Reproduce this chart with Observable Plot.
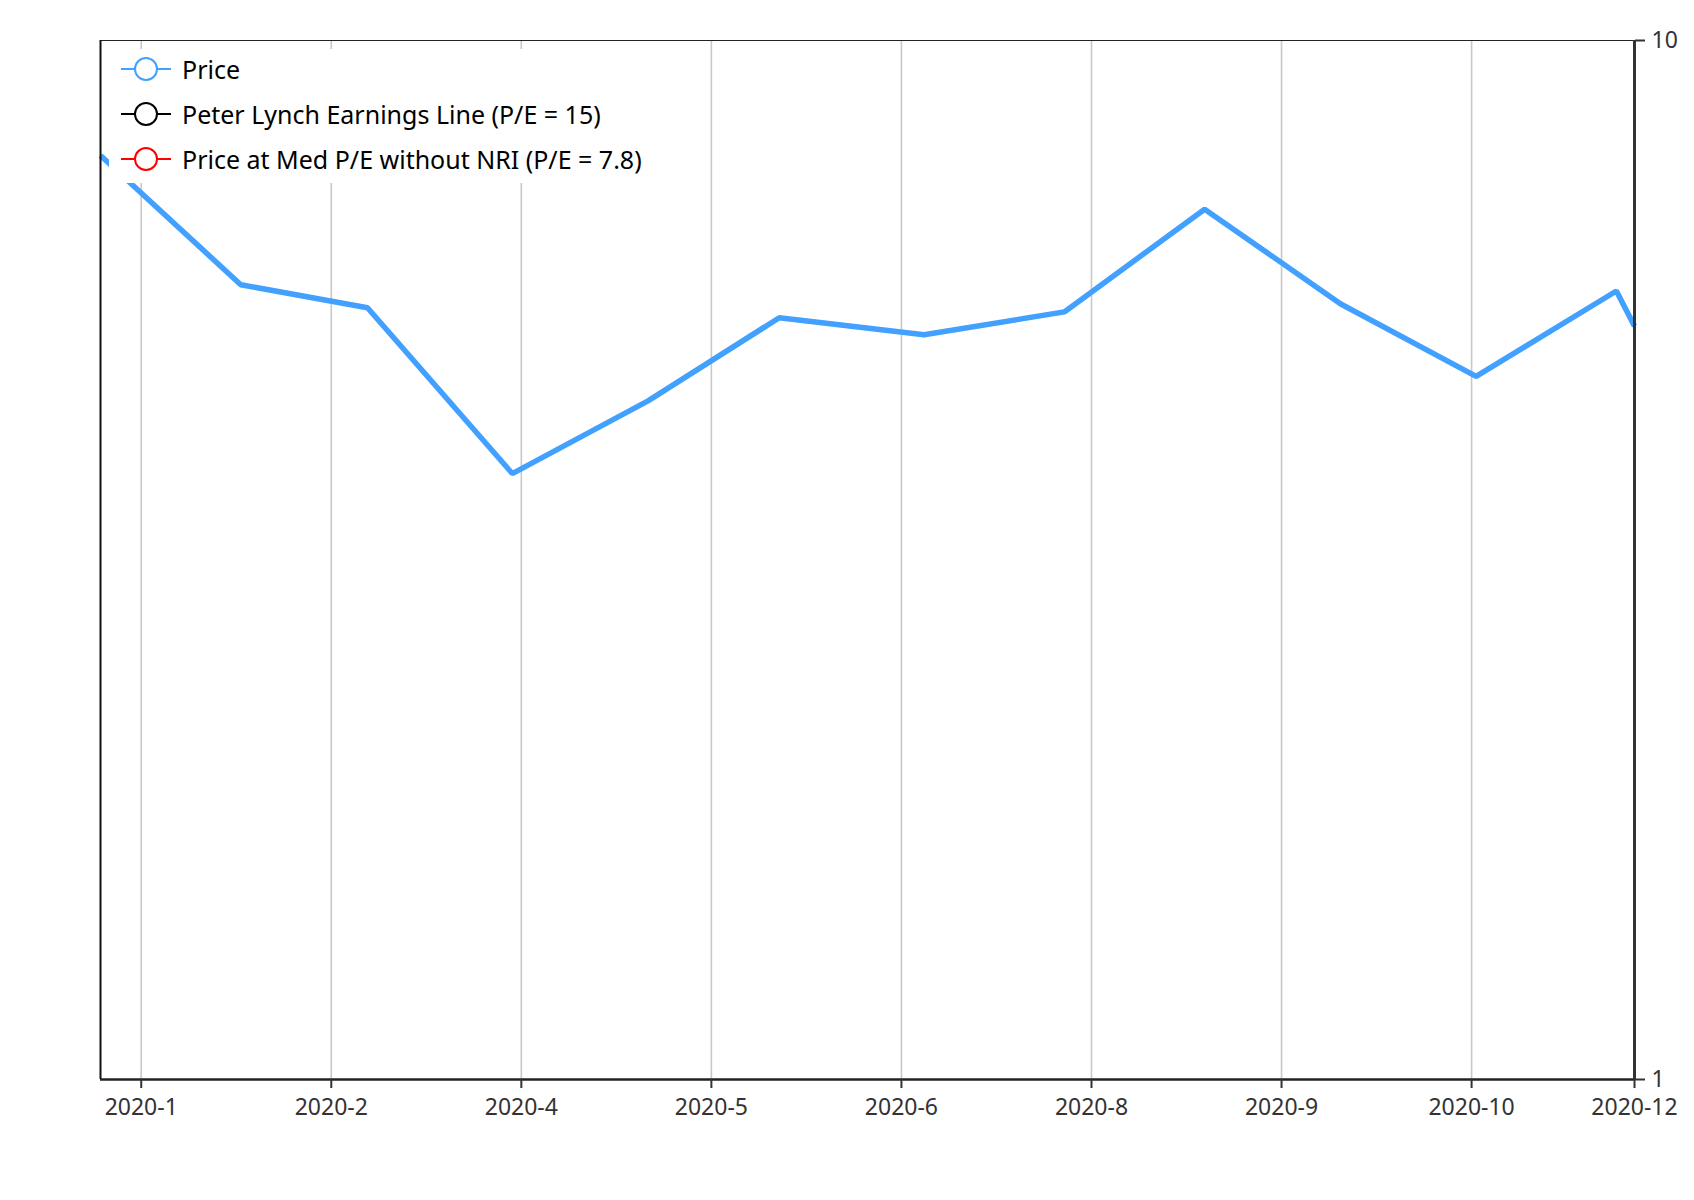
<!DOCTYPE html>
<html>
<head>
<meta charset="utf-8">
<script src="https://cdn.jsdelivr.net/npm/d3@7"></script>
<script src="https://cdn.jsdelivr.net/npm/@observablehq/plot@0.6"></script>
<style>
  html, body { margin: 0; padding: 0; background: #fff; }
  #wrap { position: relative; width: 1694px; height: 1200px; font-family: "Noto Sans", sans-serif; }
  #legend { position: absolute; left: 109px; top: 49px; width: 545px; height: 134px; background: #fff; }
  .item { position: absolute; left: 0; height: 45px; display: flex; align-items: center; font-size: 25px; color: #000; white-space: nowrap; }
  .item svg { margin-right: 10px; }
</style>
</head>
<body>
<div id="wrap"><div id="legend"></div></div>
<script>
// ---- data ----
const dates = ["2019-12-31","2020-01-31","2020-02-28","2020-03-31","2020-04-30","2020-05-29","2020-06-30","2020-07-31","2020-08-31","2020-09-30","2020-10-30","2020-11-30","2020-12-04"];
const prices = [7.75, 5.82, 5.53, 3.83, 4.50, 5.41, 5.21, 5.48, 6.88, 5.58, 4.75, 5.74, 5.31];
const xTickDates = ["2020-01-09","2020-02-20","2020-04-02","2020-05-14","2020-06-25","2020-08-06","2020-09-17","2020-10-29","2020-12-04"];
const yTicks = [1, 10];
const legendLabels = ["Price", "Peter Lynch Earnings Line (P/E = 15)", "Price at Med P/E without NRI (P/E = 7.8)"];
const legendColors = ["#42a0ff", "#000000", "#ff0000"];

const parse = d3.utcParse("%Y-%m-%d");
const data = dates.map((d, i) => ({date: parse(d), price: prices[i]}));
const ticks = xTickDates.map(parse);
const domainX = [parse(dates[0]), parse(dates[dates.length - 1])];

const chart = Plot.plot({
  width: 1694,
  height: 1200,
  marginLeft: 100,
  marginRight: 60,
  marginTop: 40,
  marginBottom: 121,
  style: {fontFamily: "Noto Sans, sans-serif", fontSize: "23px", color: "#333", background: "#fff", overflow: "visible"},
  x: {type: "utc", domain: domainX},
  y: {type: "log", domain: [1, 10]},
  marks: [
    Plot.ruleX(ticks, {stroke: "#c8c8c8", strokeWidth: 1.6}),
    Plot.line(data, {x: "date", y: "price", stroke: legendColors[0], strokeWidth: 5.5, strokeLinejoin: "miter", strokeLinecap: "butt"}),
    Plot.ruleY([10], {stroke: "#222", strokeWidth: 1.2}),
    Plot.ruleX([domainX[0]], {stroke: "#111", strokeWidth: 2}),
    Plot.ruleY([1], {stroke: "#222", strokeWidth: 2.5}),
    Plot.ruleX([domainX[1]], {stroke: "#333", strokeWidth: 3}),
    Plot.axisX(ticks, {anchor: "bottom", tickSize: 9, tickPadding: 10, tickFormat: d3.utcFormat("%Y-%-m"), stroke: "#333", fill: "#333", strokeWidth: 2, fontSize: 23, label: null}),
    Plot.axisY(yTicks, {anchor: "right", tickSize: 10, tickPadding: 7, tickFormat: d => String(d), stroke: "#333", fill: "#333", strokeWidth: 2, fontSize: 23, label: null})
  ]
});
document.getElementById("wrap").prepend(chart);

const legend = document.getElementById("legend");
legendLabels.forEach((lab, i) => {
  const row = document.createElement("div");
  row.className = "item";
  row.style.top = (-2.5 + 45 * i) + "px";
  const c = legendColors[i];
  row.innerHTML = `<svg width="63" height="30" viewBox="0 0 63 30"><line x1="12" x2="62" y1="15" y2="15" stroke="${c}" stroke-width="2"/><circle cx="37" cy="15" r="11" fill="#fff" stroke="${c}" stroke-width="2"/></svg><span>${lab}</span>`;
  legend.appendChild(row);
});
</script>
</body>
</html>
